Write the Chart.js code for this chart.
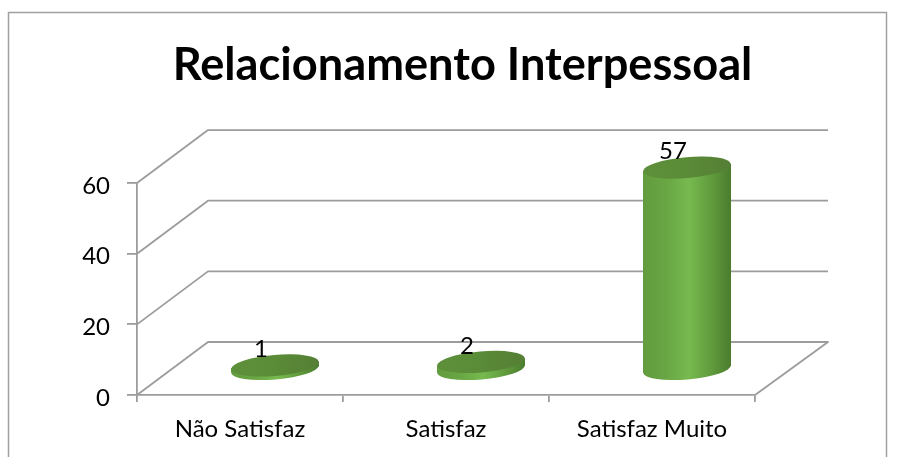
<!DOCTYPE html>
<html><head><meta charset="utf-8">
<script src="https://cdn.jsdelivr.net/npm/chart.js@4"></script>
<style>html,body{margin:0;padding:0;background:#fff}canvas{display:block}</style>
</head><body><canvas id="c" width="902" height="457"></canvas>
<script>
const titleText = 'Relacionamento Interpessoal';
const categories = ['Não Satisfaz', 'Satisfaz', 'Satisfaz Muito'];
const values = [1, 2, 57];
const yTicks = [0, 20, 40, 60];

const FONT = 'Lato, sans-serif';
const LINE = '#9c9c9c';
const LW = 1.8;
const WALL = {dx: 71, dy: -53};
const BAR = {dx: 35, dy: -26, w: 88, ry: 10.5, tilt: -0.085};

function sideGradient(ctx, cx) {
  if (!Number.isFinite(cx)) return '#68a543';
  const hw = BAR.w / 2;
  const g = ctx.createLinearGradient(cx - hw, 0, cx + hw, 0);
  g.addColorStop(0, '#639c3e');
  g.addColorStop(0.25, '#68a543');
  g.addColorStop(0.52, '#77ba4f');
  g.addColorStop(0.8, '#5f983b');
  g.addColorStop(1, '#4b7c2e');
  return g;
}

const cylinder3d = {
  id: 'cylinder3d',
  beforeDraw(chart) {
    const c = chart.ctx;
    c.save();
    c.fillStyle = '#fff';
    c.fillRect(0, 0, chart.width, chart.height);
    c.strokeStyle = '#a0a0a0';
    c.lineWidth = 1.5;
    c.strokeRect(8.5, 12.5, 878, 460);
    c.restore();
  },
  beforeDatasetsDraw(chart) {
    const c = chart.ctx, y = chart.scales.y;
    const l = chart.chartArea.left, r = chart.chartArea.right;
    c.save();
    c.strokeStyle = LINE;
    c.lineWidth = LW;
    c.lineJoin = 'round';
    yTicks.forEach(t => {
      const p = y.getPixelForValue(t);
      c.beginPath();
      c.moveTo(l, p);
      c.lineTo(l + WALL.dx, p + WALL.dy);
      c.lineTo(r + WALL.dx + 2, p + WALL.dy);
      if (t === 0) c.lineTo(r, p);
      c.stroke();
    });
    c.restore();
  },
  beforeDatasetDraw(chart, args) {
    const c = chart.ctx, y = chart.scales.y;
    const base = y.getPixelForValue(0);
    c.save();
    c.translate(BAR.dx, BAR.dy);
    const hw = BAR.w / 2, drop = Math.tan(-BAR.tilt) * hw;
    args.meta.data.forEach(b => {
      c.fillStyle = sideGradient(c, b.x);
      // bottom cap
      c.beginPath();
      c.ellipse(b.x, base, hw, BAR.ry, BAR.tilt, 0, Math.PI * 2);
      c.fill();
      // slanted strips joining the flat bar ends to the caps
      c.beginPath();
      c.moveTo(b.x - hw, base - 1);
      c.lineTo(b.x - hw, base + drop);
      c.lineTo(b.x + hw, base - drop);
      c.lineTo(b.x + hw, base - drop - 1);
      c.closePath();
      c.fill();
      c.beginPath();
      c.moveTo(b.x - hw, b.y + drop);
      c.lineTo(b.x + hw, b.y - drop);
      c.lineTo(b.x + hw, b.y + 1);
      c.lineTo(b.x - hw, b.y + drop + 1);
      c.closePath();
      c.fill();
    });
    // trim the library's bars to the slanted silhouette
    c.beginPath();
    args.meta.data.forEach(b => {
      c.moveTo(b.x - hw, b.y + drop);
      c.lineTo(b.x - hw, base + drop);
      c.lineTo(b.x + hw, base - drop);
      c.lineTo(b.x + hw, b.y - drop);
      c.closePath();
    });
    c.clip();
  },
  afterDatasetDraw(chart, args) {
    const c = chart.ctx;
    c.restore();
    c.save();
    c.translate(BAR.dx, BAR.dy);
    const hw = BAR.w / 2;
    args.meta.data.forEach((b, i) => {
      const g = c.createLinearGradient(b.x - hw, 0, b.x + hw, 0);
      g.addColorStop(0, '#5e8f3b');
      g.addColorStop(0.5, '#5a8b37');
      g.addColorStop(1, '#557f35');
      c.fillStyle = g;
      c.beginPath();
      c.ellipse(b.x, b.y, hw, BAR.ry, BAR.tilt, 0, Math.PI * 2);
      c.fill();
      c.fillStyle = '#000';
      c.font = '24px ' + FONT;
      c.textAlign = 'center';
      c.textBaseline = 'middle';
      c.fillText(String(values[i]), b.x - 14, b.y - 16);
    });
    c.restore();
  }
};

new Chart(document.getElementById('c'), {
  type: 'bar',
  data: {
    labels: categories,
    datasets: [{
      data: values,
      barThickness: BAR.w,
      borderWidth: 0,
      clip: false,
      backgroundColor(ctx) {
        const sx = ctx.chart.scales.x;
        return sideGradient(ctx.chart.ctx, sx ? sx.getPixelForValue(ctx.dataIndex) : NaN);
      }
    }]
  },
  options: {
    responsive: false,
    animation: false,
    layout: {padding: {left: 23, right: 0, top: 0, bottom: 0}},
    plugins: {
      legend: {display: false},
      tooltip: {enabled: false},
      title: {
        display: true,
        text: titleText,
        color: '#000',
        font: {family: FONT, size: 45.2, weight: 'bold', lineHeight: 1.2},
        padding: {top: 38, bottom: 90.8}
      }
    },
    scales: {
      x: {
        grid: {offset: true, drawOnChartArea: false, color: LINE, tickLength: 7, lineWidth: LW},
        border: {color: LINE, width: LW},
        ticks: {color: '#000', font: {family: FONT, size: 24}, padding: 13, maxRotation: 0},
        afterFit(s) { s.height = 62; }
      },
      y: {
        min: 0, max: 60,
        grid: {drawOnChartArea: false, color: LINE, tickLength: 10, lineWidth: LW},
        border: {color: LINE, width: LW},
        ticks: {color: '#000', font: {family: FONT, size: 24}, padding: 17, stepSize: 20, labelOffset: 3},
        afterFit(s) { s.width = 114; }
      },
      rightGap: {
        position: 'right',
        grid: {display: false},
        border: {display: false},
        ticks: {display: false},
        afterFit(s) { s.width = 147; }
      }
    }
  },
  plugins: [cylinder3d]
});
</script>
</body></html>
